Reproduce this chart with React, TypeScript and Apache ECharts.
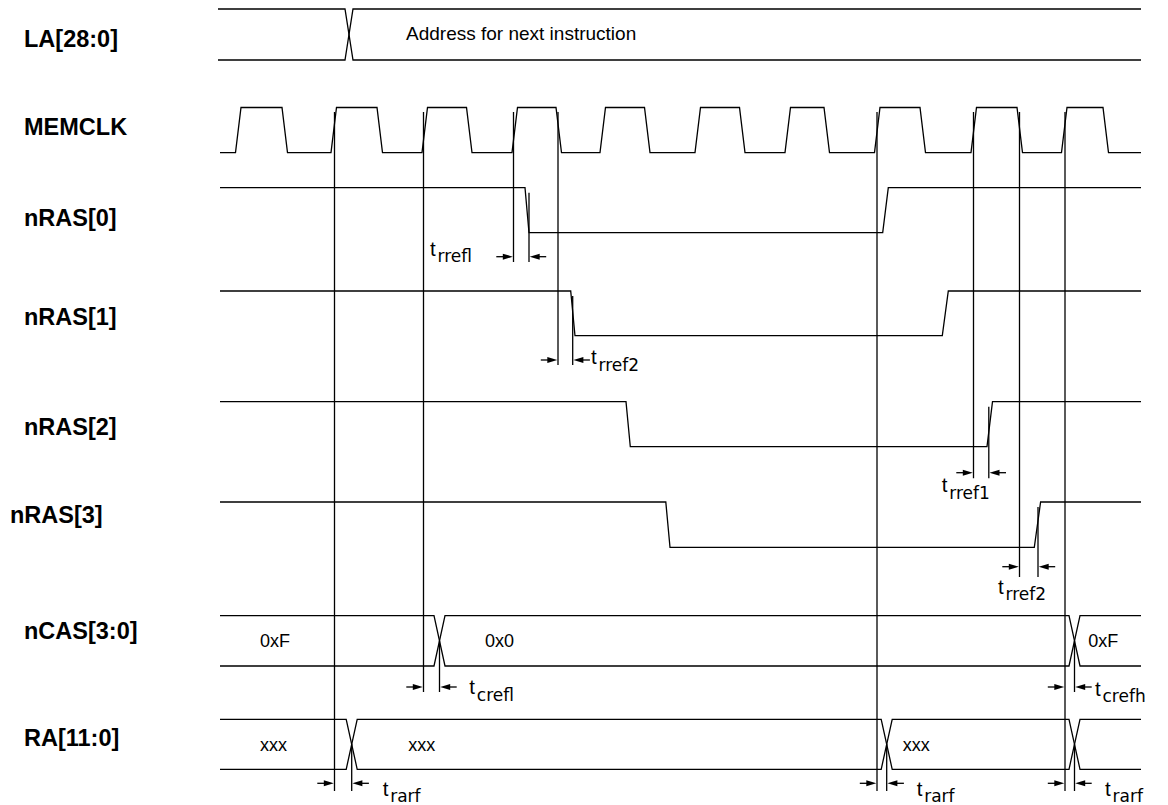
import React, { useEffect, useRef } from "react";
import * as echarts from "echarts";

// ---------------- data (times are in diagram time units) ----------------
const SIGNAL_NAMES = ["LA[28:0]", "MEMCLK", "nRAS[0]", "nRAS[1]", "nRAS[2]", "nRAS[3]", "nCAS[3:0]", "RA[11:0]"];

const LA_START = 218;
const TRACE_START = 220;
const TRACE_END = 1141;

const LA_CROSS = [349];
const LA_TEXT = ["", "Address for next instruction"];
const LA_CROSS_HALF = 4;

const CLK_RISE = [235.5, 331, 422, 512, 600, 695, 785, 874.5, 971, 1061.5];
const CLK_FALL = [282, 377, 466.5, 556, 644.5, 739.5, 824, 920, 1017, 1103];
const CLK_EDGE = 5.5;

// [edge start, edge end] for nRAS[0..3]
const NRAS_FALL = [[525, 529], [570.7, 575], [626, 630.3], [665.8, 670]];
const NRAS_RISE = [[882.7, 888.3], [942.3, 948.3], [987, 992.5], [1034.3, 1040.6]];

const NCAS_CROSS = [439.5, 1074.5];
const NCAS_TEXT = ["0xF", "0x0", "0xF"];
const RA_CROSS = [351.7, 886.7, 1074.5];
const RA_TEXT = ["xxx", "xxx", "xxx", ""];
const BUS_CROSS_HALF = 5.5;

const REF_TIMES = [334.5, 423.5, 513.5, 558, 877, 973.5, 1019.5, 1065];

const MEAS_NAME = ["rrefl", "rref2", "rref1", "rref2", "crefl", "crefh", "rarf", "rarf", "rarf"];
const MEAS_SIGNAL = [2, 3, 4, 5, 6, 6, 7, 7, 7];
const MEAS_REF = [513.5, 558, 973.5, 1019.5, 423.5, 1065, 334.5, 877, 1065];
const MEAS_EDGE = [529, 572.7, 988.8, 1038, 439.5, 1074.5, 351.7, 886.7, 1074.5];

// ---------------- layout ----------------
const LANE_HIGH = [9, 107.5, 187.7, 291, 401.7, 502, 615.7, 719.3];
const LANE_LOW = [60, 152.7, 232.7, 335.7, 446.7, 547.3, 666, 769.3];
const NAME_X = [24, 24, 24, 24, 24, 10, 24, 24];
const NAME_Y = [38.7, 126.7, 218, 316.7, 427, 515, 630.5, 737.5];
const ARROW_Y = [0, 0, 256.7, 360, 472.7, 566.7, 687, 783.3];
const TICK_END = [0, 0, 262, 365, 478.3, 577, 692, 791];
const REF_TOP = 112;
const LA_TEXT_X = [0, 406];
const NCAS_TEXT_X = [260, 485, 1088.3];
const RA_TEXT_X = [260, 408.3, 902.7, 0];
const MEAS_LABEL_POS = [
  [430, 248], [591, 356.4], [941.8, 484.8], [998, 586],
  [469.3, 686.4], [1095, 688], [382.7, 788], [916.7, 788], [1105, 788],
];
const ARROW_LEN = 16.5;
const HEAD_LEN = 10;
const HEAD_W = 6;

const FONT = '"Liberation Sans", Arial, Helvetica, sans-serif';
const SUB_FONT = '"DejaVu Sans", "Liberation Sans", sans-serif';
const INK = "#000";

function bus(start: number, end: number, crosses: number[], half: number, top: number, bot: number) {
  const a: number[][] = [[start, top]];
  const b: number[][] = [[start, bot]];
  let aTop = true;
  for (const c of crosses) {
    const ya = aTop ? top : bot;
    const yb = aTop ? bot : top;
    a.push([c - half, ya], [c + half, yb]);
    b.push([c - half, yb], [c + half, ya]);
    aTop = !aTop;
  }
  a.push([end, aTop ? top : bot]);
  b.push([end, aTop ? bot : top]);
  return [a, b];
}

type TextItem = { pos: number[]; style: any };

function buildOption() {
  const mid = (i: number) => (LANE_HIGH[i] + LANE_LOW[i]) / 2;
  const wires: number[][][] = [];

  // LA bus
  wires.push(...bus(LA_START, TRACE_END, LA_CROSS, LA_CROSS_HALF, LANE_HIGH[0], LANE_LOW[0]));

  // clock
  const ch = LANE_HIGH[1];
  const cl = LANE_LOW[1];
  const clk: number[][] = [[TRACE_START, cl]];
  CLK_RISE.forEach((r, i) => {
    clk.push([r, cl], [r + CLK_EDGE, ch], [CLK_FALL[i], ch], [CLK_FALL[i] + CLK_EDGE, cl]);
  });
  clk.push([TRACE_END, cl]);
  wires.push(clk);

  // nRAS
  for (let k = 0; k < 4; k++) {
    const lane = 2 + k;
    const h = LANE_HIGH[lane];
    const l = LANE_LOW[lane];
    wires.push([
      [TRACE_START, h],
      [NRAS_FALL[k][0], h],
      [NRAS_FALL[k][1], l],
      [NRAS_RISE[k][0], l],
      [NRAS_RISE[k][1], h],
      [TRACE_END, h],
    ]);
  }

  // nCAS / RA buses
  wires.push(...bus(TRACE_START, TRACE_END, NCAS_CROSS, BUS_CROSS_HALF, LANE_HIGH[6], LANE_LOW[6]));
  wires.push(...bus(TRACE_START, TRACE_END, RA_CROSS, BUS_CROSS_HALF, LANE_HIGH[7], LANE_LOW[7]));

  // reference lines
  REF_TIMES.forEach((x) => {
    let bottom = REF_TOP;
    MEAS_REF.forEach((r, i) => {
      if (r === x) bottom = Math.max(bottom, TICK_END[MEAS_SIGNAL[i]]);
    });
    wires.push([[x, REF_TOP], [x, bottom]]);
  });

  // edge extension ticks + arrows
  const heads: any[] = [];
  MEAS_EDGE.forEach((e, i) => {
    const lane = MEAS_SIGNAL[i];
    const top = lane >= 6 ? mid(lane) : LANE_HIGH[lane] + 5;
    wires.push([[e, top], [e, TICK_END[lane]]]);
    const y = ARROW_Y[lane];
    const tipR = MEAS_REF[i] - 0.7;
    const tipL = e + 0.7;
    wires.push([[tipR - ARROW_LEN, y], [tipR - HEAD_LEN / 2, y]]);
    wires.push([[tipL + ARROW_LEN, y], [tipL + HEAD_LEN / 2, y]]);
    heads.push({ value: [tipR - HEAD_LEN / 2, y], symbolRotate: -90 });
    heads.push({ value: [tipL + HEAD_LEN / 2, y], symbolRotate: 90 });
  });

  // texts
  const texts: TextItem[] = [];
  const base = { fill: INK, fontFamily: FONT, align: "left", verticalAlign: "middle" };
  SIGNAL_NAMES.forEach((n, i) =>
    texts.push({ pos: [NAME_X[i], NAME_Y[i]], style: { ...base, text: n, fontSize: 23.5, fontWeight: "bold" } })
  );
  LA_TEXT.forEach((t, i) => {
    if (t) texts.push({ pos: [LA_TEXT_X[i], mid(0) - 0.6], style: { ...base, text: t, fontSize: 19 } });
  });
  NCAS_TEXT.forEach((t, i) => {
    if (t) texts.push({ pos: [NCAS_TEXT_X[i], mid(6) + 0.6], style: { ...base, text: t, fontSize: 18 } });
  });
  RA_TEXT.forEach((t, i) => {
    if (t) texts.push({ pos: [RA_TEXT_X[i], mid(7) + 0.6], style: { ...base, text: t, fontSize: 18 } });
  });
  MEAS_NAME.forEach((s, i) =>
    texts.push({
      pos: MEAS_LABEL_POS[i],
      style: {
        ...base,
        text: `{t|t}{s|${s}}`,
        rich: {
          t: { fontSize: 20.5, fontFamily: FONT, fill: INK },
          s: { fontSize: 17, fontFamily: SUB_FONT, fill: INK, padding: [16.5, 0, 0, 1.8] },
        },
      },
    })
  );

  return {
    animation: false,
    backgroundColor: "#fff",
    grid: { left: 0, right: 0, top: 0, bottom: 0, containLabel: false },
    xAxis: { type: "value", min: 0, max: 1168, show: false },
    yAxis: { type: "value", min: 0, max: 805, inverse: true, show: false },
    series: [
      {
        type: "lines",
        coordinateSystem: "cartesian2d",
        polyline: true,
        silent: true,
        clip: false,
        lineStyle: { color: INK, width: 1.3, opacity: 1, curveness: 0 },
        data: wires.map((c) => ({ coords: c })),
        z: 2,
      },
      {
        type: "scatter",
        symbol: "triangle",
        symbolSize: [HEAD_W, HEAD_LEN],
        silent: true,
        clip: false,
        itemStyle: { color: INK, opacity: 1 },
        data: heads,
        z: 3,
      },
      {
        type: "custom",
        coordinateSystem: "cartesian2d",
        silent: true,
        clip: false,
        data: texts.map((t) => t.pos),
        renderItem: (params: any, api: any) => {
          const item = texts[params.dataIndex];
          const p = api.coord([api.value(0), api.value(1)]);
          return { type: "text", x: p[0], y: p[1], style: item.style };
        },
        z: 5,
      },
    ],
  };
}

export default function App() {
  const ref = useRef<HTMLDivElement>(null);
  useEffect(() => {
    document.body.style.margin = "0";
    const chart = echarts.init(ref.current!, null, { renderer: "svg" });
    chart.setOption(buildOption() as any);
    return () => chart.dispose();
  }, []);
  return <div ref={ref} style={{ width: 1168, height: 805, background: "#fff", overflow: "hidden" }} />;
}
